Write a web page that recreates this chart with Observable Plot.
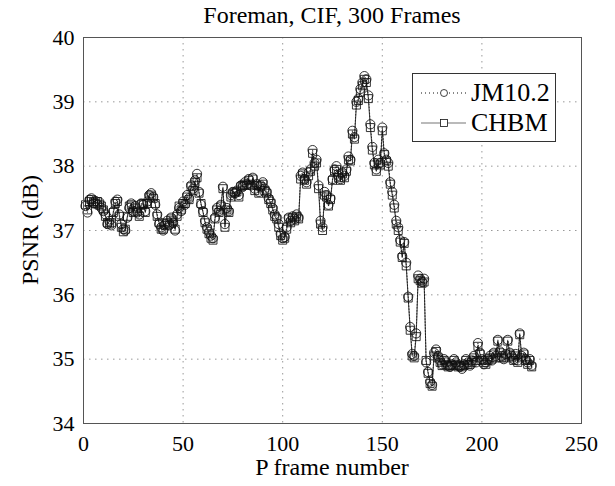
<!DOCTYPE html>
<html><head><meta charset="utf-8">
<script src="https://cdn.jsdelivr.net/npm/d3@7"></script>
<script src="https://cdn.jsdelivr.net/npm/@observablehq/plot@0.6"></script>
<style>
body{margin:0;background:#fff;font-family:"Liberation Serif","Times New Roman",serif;}
#wrap{position:relative;width:615px;height:486px;overflow:hidden;}
#title{position:absolute;left:132px;width:400px;top:0;height:28px;line-height:30px;text-align:center;font-size:24px;color:#000;white-space:nowrap;}
#chart{position:absolute;left:0;top:28px;}
svg text, svg g{font-family:"Liberation Serif","Times New Roman",serif !important;}
#legend{position:absolute;left:412px;top:73px;width:142px;height:67px;border:1px solid #333;background:#fff;}
#legend svg{position:absolute;left:0;top:0;}
.lt{position:absolute;left:58px;font-size:26px;line-height:26px;color:#000;white-space:nowrap;}
.ax{position:absolute;font-size:24px;line-height:24px;color:#000;white-space:nowrap;}
</style></head>
<body>
<div id="wrap">
<div id="title">Foreman, CIF, 300 Frames</div>
<div id="chart"></div>
<div id="legend"></div>
</div>
<script>
const seriesNames = ["JM10.2", "CHBM"];
const xTicks = [0, 50, 100, 150, 200, 250];
const yTicks = [34, 35, 36, 37, 38, 39, 40];
const frames = d3.range(1, 226);
const jm = [
37.38,37.28,37.48,37.50,37.42,37.46,37.40,37.44,37.35,37.30,
37.25,37.10,37.15,37.08,37.30,37.45,37.48,37.25,37.10,37.02,
37.00,37.20,37.35,37.42,37.30,37.38,37.28,37.25,37.42,37.40,
37.30,37.45,37.55,37.58,37.52,37.40,37.25,37.10,37.05,37.00,
37.10,37.15,37.08,37.20,37.12,37.00,37.25,37.35,37.30,37.45,
37.40,37.55,37.50,37.70,37.65,37.78,37.88,37.60,37.40,37.30,
37.15,37.05,36.98,36.92,36.88,37.20,37.35,37.30,37.40,37.68,
37.10,37.35,37.30,37.55,37.60,37.58,37.62,37.55,37.70,37.68,
37.75,37.72,37.80,37.70,37.82,37.65,37.72,37.60,37.70,37.75,
37.65,37.60,37.50,37.45,37.35,37.25,37.20,37.10,36.95,36.88,
36.90,37.05,37.20,37.15,37.22,37.18,37.25,37.20,37.85,37.90,
37.80,37.75,37.90,37.95,38.25,38.05,38.10,37.70,37.15,37.05,
37.60,37.55,37.40,37.50,37.80,37.95,38.00,37.85,37.80,37.90,
37.85,37.95,38.15,38.10,38.55,38.45,39.00,39.05,39.20,39.30,
39.40,39.35,39.10,38.65,38.30,38.05,37.95,38.10,38.05,38.60,
38.20,38.10,38.05,37.75,37.60,37.40,37.15,37.05,36.85,36.60,
36.82,36.50,35.97,35.50,35.08,35.05,35.40,36.30,36.25,36.20,
36.25,34.95,34.80,34.65,34.60,35.10,35.15,35.05,34.98,34.92,
35.00,34.95,34.90,34.88,34.92,35.00,34.95,34.90,34.88,34.85,
34.92,35.00,34.95,34.90,34.98,35.05,34.95,35.25,35.10,35.00,
34.92,34.95,35.00,35.05,34.98,35.10,35.05,35.30,35.12,35.05,
35.00,35.08,35.30,35.10,35.05,35.00,35.08,34.98,35.40,35.05,
35.10,35.00,34.95,35.00,34.90
];
const chbm = [
37.40,37.32,37.45,37.48,37.44,37.42,37.45,37.40,37.38,37.32,
37.22,37.12,37.10,37.12,37.28,37.42,37.45,37.22,37.05,36.98,
37.02,37.22,37.38,37.40,37.28,37.35,37.30,37.22,37.40,37.42,
37.28,37.42,37.52,37.55,37.50,37.42,37.22,37.12,37.02,37.02,
37.08,37.12,37.10,37.18,37.15,37.02,37.22,37.38,37.32,37.42,
37.42,37.52,37.48,37.68,37.62,37.75,37.82,37.58,37.42,37.28,
37.12,37.02,36.95,36.88,36.85,37.18,37.32,37.28,37.38,37.65,
37.05,37.32,37.28,37.52,37.58,37.60,37.60,37.52,37.68,37.70,
37.72,37.70,37.78,37.72,37.80,37.62,37.70,37.58,37.68,37.72,
37.62,37.58,37.48,37.42,37.32,37.22,37.18,37.05,36.92,36.85,
36.88,37.02,37.18,37.12,37.20,37.15,37.22,37.18,37.80,37.88,
37.78,37.72,37.85,37.92,38.20,38.00,38.05,37.65,37.10,37.00,
37.55,37.52,37.38,37.48,37.78,37.92,37.95,37.82,37.78,37.88,
37.82,37.92,38.10,38.08,38.50,38.42,38.95,39.02,39.15,39.25,
39.35,39.30,39.05,38.60,38.25,38.02,37.92,38.05,38.02,38.55,
38.18,38.08,38.00,37.72,37.55,37.35,37.10,37.00,36.82,36.58,
36.80,36.45,35.95,35.45,35.05,35.02,35.35,36.25,36.22,36.18,
36.20,34.98,34.78,34.62,34.58,35.05,35.12,35.02,34.95,34.90,
34.98,34.92,34.88,34.90,34.90,34.98,34.92,34.88,34.90,34.88,
34.90,34.98,34.92,34.92,34.95,35.02,34.98,35.20,35.08,34.98,
34.95,34.92,34.98,35.02,35.00,35.08,35.02,35.28,35.10,35.02,
35.02,35.05,35.28,35.08,35.02,34.98,35.05,34.95,35.38,35.02,
35.08,34.98,34.92,34.98,34.88
];
const rows = frames.map((f, i) => ({frame: f, jm: jm[i], chbm: chbm[i]}));
const ink = "#111";
const serif = "Liberation Serif";

const plot = Plot.plot({
  width: 615, height: 458,
  marginTop: 9, marginBottom: 63, marginLeft: 83, marginRight: 34,
  style: {fontFamily: serif, fontSize: "22px", color: "#000", background: "#fff", overflow: "visible"},
  x: {domain: [0, 250], label: null},
  y: {domain: [34, 40], label: null},
  marks: [
    Plot.gridX({ticks: xTicks.slice(1, -1), stroke: "#999", strokeOpacity: 1, strokeWidth: 1, strokeDasharray: "1.5,4.5"}),
    Plot.gridY({ticks: yTicks.slice(1, -1), stroke: "#999", strokeOpacity: 1, strokeWidth: 1, strokeDasharray: "1.5,4.5"}),
    Plot.line(rows, {x: "frame", y: "jm", stroke: ink, strokeWidth: 0.8, strokeDasharray: "1,2"}),
    Plot.line(rows, {x: "frame", y: "chbm", stroke: ink, strokeWidth: 0.8}),
    Plot.dot(rows, {x: "frame", y: "jm", symbol: "circle", r: 4.6, stroke: ink, strokeWidth: 0.85, fill: "none"}),
    Plot.dot(rows, {x: "frame", y: "chbm", symbol: "square", r: 4.5, stroke: ink, strokeWidth: 0.85, fill: "none"}),
    Plot.frame({stroke: "#555", strokeWidth: 1}),
    Plot.axisX({ticks: xTicks, tickSize: 0, tickPadding: 12, tickFormat: "d", fontSize: 22, fontFamily: serif, label: null}),
    Plot.axisY({ticks: yTicks, tickSize: 0, tickPadding: 9, tickFormat: "d", fontSize: 22, fontFamily: serif, label: null})
  ]
});
const sel = d3.select(plot);
sel.attr("font-family", serif);
sel.selectAll("g").attr("font-family", serif).style("font-family", serif);
sel.selectAll("text").attr("font-family", serif).style("font-family", serif);
document.getElementById("chart").appendChild(plot);

// axis titles
const wrap = document.getElementById("wrap");
const xl = document.createElement("div");
xl.className = "ax"; xl.textContent = "P frame number";
xl.style.left = "132px"; xl.style.width = "400px"; xl.style.textAlign = "center"; xl.style.top = "455px";
wrap.appendChild(xl);
const yl = document.createElement("div");
yl.className = "ax"; yl.textContent = "PSNR (dB)";
yl.style.left = "30px"; yl.style.top = "230px";
yl.style.transform = "translate(-50%,-50%) rotate(-90deg)";
wrap.appendChild(yl);

// legend
const lg = document.getElementById("legend");
const ns = "http://www.w3.org/2000/svg";
const sv = document.createElementNS(ns, "svg");
sv.setAttribute("width", 142); sv.setAttribute("height", 67);
const rowsY = [19, 49];
seriesNames.forEach((name, i) => {
  const y = rowsY[i];
  const ln = document.createElementNS(ns, "line");
  ln.setAttribute("x1", 8); ln.setAttribute("x2", 53); ln.setAttribute("y1", y); ln.setAttribute("y2", y);
  ln.setAttribute("stroke", i === 0 ? ink : "#777");
  ln.setAttribute("stroke-width", i === 0 ? 1 : 1.2);
  if (i === 0) ln.setAttribute("stroke-dasharray", "1,3");
  sv.appendChild(ln);
  let mk;
  if (i === 0) {
    mk = document.createElementNS(ns, "circle");
    mk.setAttribute("cx", 31); mk.setAttribute("cy", y); mk.setAttribute("r", 3.5);
  } else {
    mk = document.createElementNS(ns, "rect");
    mk.setAttribute("x", 27.5); mk.setAttribute("y", y - 3.5); mk.setAttribute("width", 7); mk.setAttribute("height", 7);
  }
  mk.setAttribute("fill", "#fff"); mk.setAttribute("stroke", ink); mk.setAttribute("stroke-width", 0.8);
  sv.appendChild(mk);
  const t = document.createElement("div");
  t.className = "lt"; t.style.top = (y - 13) + "px"; t.textContent = name;
  lg.appendChild(t);
});
lg.insertBefore(sv, lg.firstChild);
</script>
</body></html>
